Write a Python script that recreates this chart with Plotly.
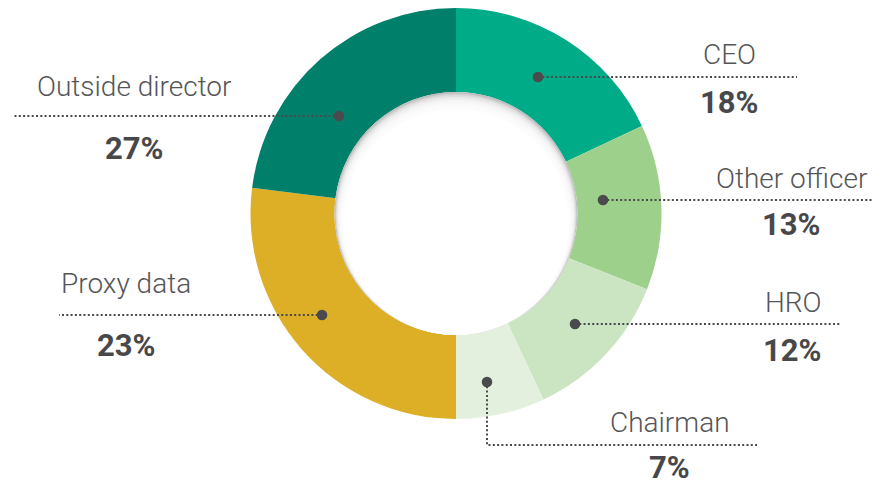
import plotly.graph_objects as go

# ---- data ----
categories = ["CEO", "Other officer", "HRO", "Chairman", "Proxy data", "Outside director"]
# slice sizes as drawn in the picture (degrees measured off the ring)
values = [18, 13, 12, 7, 27, 23]
# percentages as printed next to each slice
printed_pct = ["18%", "13%", "12%", "7%", "23%", "27%"]

# ---- style / layout ----
colors = ["#00AB87", "#9DD08B", "#CBE5C2", "#E3F0DE", "#DDAF27", "#00806B"]
W, H = 881, 482
OFF = 8  # page body margin of the html page
CX, CY, R = 456, 213.5, 205.5
HOLE_R = 121.5

# callout geometry in pixels: leader line path (starts at dot), label centre, percent centre
callouts = {
    "CEO": dict(path=[(538, 77), (797, 77)], label=(729, 55), pct=(729, 103)),
    "Other officer": dict(path=[(603, 200), (881, 200)], label=(792, 178), pct=(791, 225)),
    "HRO": dict(path=[(575, 324), (841, 324)], label=(793, 302), pct=(792, 350)),
    "Chairman": dict(path=[(487, 382), (487, 445), (757, 445)], label=(670, 422), pct=(669, 467)),
    "Proxy data": dict(path=[(322, 315), (59, 315)], label=(126, 283), pct=(126, 345)),
    "Outside director": dict(path=[(339, 116), (14, 116)], label=(134, 87), pct=(134, 148)),
}

def px(x):
    return (x - OFF) / W

def py(y):
    return 1 - (y - OFF) / H

def clamp(v):
    return min(1.0, max(0.0, v))

fig = go.Figure(go.Pie(
    labels=categories,
    values=values,
    marker=dict(colors=colors, line=dict(width=0)),
    hole=HOLE_R / R,
    sort=False,
    direction="clockwise",
    rotation=0,
    textinfo="none",
    hoverinfo="label",
    showlegend=False,
    domain=dict(x=[clamp(px(CX - R)), clamp(px(CX + R))],
                y=[clamp(py(CY + R)), clamp(py(CY - R))]),
))

shapes = []
# inner shadow of the hole
shapes.append(dict(type="circle", xref="paper", yref="paper",
                   x0=px(CX - HOLE_R), x1=px(CX + HOLE_R),
                   y0=py(CY + HOLE_R), y1=py(CY - HOLE_R),
                   fillcolor="#bdbdbd", line=dict(width=0), layer="above"))
N = 11
for k in range(1, N + 1):
    o = k * 0.8
    r = HOLE_R - o
    c = CY + o
    alpha = 1.0 if k == N else 0.32
    shapes.append(dict(type="circle", xref="paper", yref="paper",
                       x0=px(CX - r), x1=px(CX + r), y0=py(c + r), y1=py(c - r),
                       fillcolor=f"rgba(255,255,255,{alpha})", line=dict(width=0), layer="above"))

annotations = []
for cat, pct in zip(categories, printed_pct):
    co = callouts[cat]
    pts = co["path"]
    d = "M " + " L ".join(f"{px(x)},{py(y)}" for x, y in pts)
    shapes.append(dict(type="path", xref="paper", yref="paper", path=d,
                       line=dict(color="#4a4a4c", width=2, dash="2px,2.3px"), layer="above"))
    dx, dy = pts[0]
    rr = 5.3
    shapes.append(dict(type="circle", xref="paper", yref="paper",
                       x0=px(dx - rr), x1=px(dx + rr), y0=py(dy + rr), y1=py(dy - rr),
                       fillcolor="#4a4a4c", line=dict(width=0), layer="above"))
    lx, ly = co["label"]
    annotations.append(dict(text=cat, x=px(lx), y=py(ly), xref="paper", yref="paper",
                            xanchor="center", yanchor="middle", showarrow=False,
                            font=dict(family="Roboto", size=28, color="#555557", weight=300)))
    qx, qy = co["pct"]
    annotations.append(dict(text=pct, x=px(qx), y=py(qy), xref="paper", yref="paper",
                            xanchor="center", yanchor="middle", showarrow=False,
                            font=dict(family="Roboto", size=31, color="#48484a", weight="bold")))

fig.update_layout(
    width=W, height=H,
    margin=dict(l=0, r=0, t=0, b=0),
    paper_bgcolor="white", plot_bgcolor="white",
    shapes=shapes, annotations=annotations,
)

fig.write_html("out.html")
